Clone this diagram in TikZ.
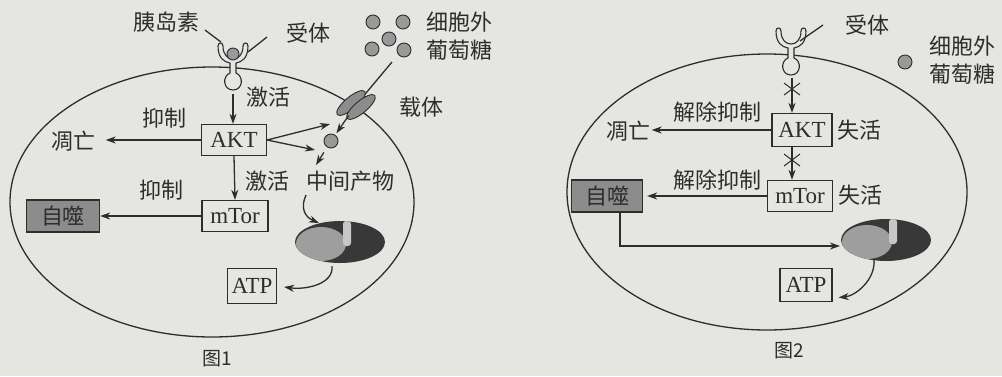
\documentclass[tikz,border=0pt]{standalone}
\usepackage{fontspec}
\setmainfont{Liberation Serif}
\newfontfamily\cjk{Noto Sans CJK SC}
\usepackage{tikz}
\usetikzlibrary{arrows.meta,calc}

\definecolor{paper}{RGB}{229,229,226}
\definecolor{ink}{RGB}{45,45,45}

\begin{document}
\begin{tikzpicture}[x=1pt,y=-1pt,line width=1.3pt,color=ink,
	box/.style={draw,font=\fontsize{23}{26}\selectfont,inner sep=1pt,minimum height=31},
	lab/.style={font=\cjk\fontsize{22}{26}\selectfont,inner sep=1pt},
	graybox/.style={box,font=\cjk\fontsize{22}{26}\selectfont,fill=black!45},
	arr/.style={-{Stealth[length=10pt,width=7pt,inset=3pt]}},
	ball/.style={circle,draw,fill=black!40,line width=0.9pt,minimum size=14,inner sep=0pt}]
	\fill[paper] (0,0) rectangle (1002,376);
	\useasboundingbox (0,0) rectangle (1002,376);

	% cell membranes
	\draw (212,202) ellipse [x radius=202, y radius=135];
	\draw (767,192) ellipse [x radius=200, y radius=138];

	% receptors
	\foreach \rx/\ry in {233/46, 791/31}{
		\filldraw[fill=paper,line width=1.1pt,shift={(\rx,\ry)}] (-3,17) -- (-3,27)
			.. controls (-11,30) and (-10,44) .. (0,44) .. controls (10,44) and (11,30) .. (3,27) -- (3,17)
			.. controls (9,16) and (15,12) .. (15,0) .. controls (15,-4) and (10,-4) .. (10,0)
			.. controls (10,9) and (5,13) .. (0,13) .. controls (-5,13) and (-10,9) .. (-10,0)
			.. controls (-10,-4) and (-15,-4) .. (-15,0) .. controls (-15,12) and (-9,16) .. (-3,17) -- cycle;
	}
	\node[ball,minimum size=12] (ins1) at (233,54) {};

	% mitochondria
	\foreach \mx/\my in {340/242, 886/240}{
		\begin{scope}[shift={(\mx,\my)}]
			\clip (0,0) ellipse [x radius=45, y radius=21];
			\fill[black!78] (-46,-22) rectangle (46,22);
			\fill[black!38] (-19,2) ellipse [x radius=25, y radius=17];
			\fill[black!22,rounded corners=3] (3,-21) rectangle (11,4);
		\end{scope}
	}
	\coordinate (mito1) at (340,242);
	\coordinate (mito2) at (886,240);

	% ---- left cell ----
	\node[lab] (ins) at (166,22) {胰岛素};
	\node[lab] (rec1) at (308,33) {受体};
	\draw (205,30) -- (221,42);
	\draw (267,37) -- (248,52);

	\node[ball] (g1) at (373,22) {};
	\node[ball] (g2) at (403,22) {};
	\node[ball] (g3) at (372,49) {};
	\node[ball] (g4) at (389,39) {};
	\node[ball] (g5) at (404,50) {};
	\node[lab] (out1) at (459,22) {细胞外};
	\node[lab] (glu1) at (459,50) {葡萄糖};

	\coordinate (gin) at (392,62);
	\coordinate (car) at (356,105);
	\draw (gin) -- (car);
	\filldraw[fill=black!45,line width=0.9pt,rotate around={40:(351,103)}] (351,103) ellipse [x radius=18, y radius=6];
	\filldraw[fill=black!45,line width=0.9pt,rotate around={40:(361,107)}] (361,107) ellipse [x radius=18, y radius=6];
	\node[lab] (carlab) at (421,107) {载体};
	\node[ball] (gin1) at (331,141) {};
	\draw[arr,shorten <=13pt,shorten >=2pt] (car) -- (gin1);

	\node[box,minimum width=65] (akt1) at (234,140) {AKT};
	\node[box,minimum width=66] (mtor1) at (235,216) {mTor};
	\node[box,minimum width=49,minimum height=35] (atp1) at (252,286) {ATP};
	\node[graybox,minimum width=73,minimum height=32] (auto1) at (63,216) {自噬};
	\node[lab] (dead1) at (73,141) {凋亡};

	\coordinate (rb1) at (233,94);
	\draw[arr] (rb1) -- (akt1.north -| rb1);
	\node[lab] (act1) at (268,97) {激活};
	\draw[arr,shorten >=9pt] (akt1.west) -- (akt1.west -| dead1.east);
	\node[lab] (inh1) at (164,118) {抑制};
	\draw[arr] (akt1.south) -- (mtor1.north);
	\node[lab] (act2) at (267,181) {激活};
	\node[lab] (mid1) at (350,181) {中间产物};
	\draw[arr] (mtor1.west) -- (auto1.east);
	\node[lab] (inh2) at (161,190) {抑制};

	\coordinate (up1) at (330,124);
	\coordinate (dn1) at (315,150);
	\draw[arr] (akt1.east) -- (up1);
	\draw[arr] (akt1.east) -- (dn1);
	\coordinate (midtop) at (316,165);
	\draw[arr,shorten <=6pt] (gin1) -- (midtop);

	\coordinate (m1in) at (306,195);
	\draw[arr] (m1in) .. controls (300,208) and (305,217) .. (319,223);
	\coordinate (m1out) at (332,266);
	\draw[arr,shorten >=7pt] (m1out) .. controls (334,284) and (306,290) .. (atp1.east);
	\node[lab,font=\cjk\fontsize{19}{22}\selectfont] (fig1) at (217,359) {图1};

	% ---- right cell ----
	\node[lab] (rec2) at (867,25) {受体};
	\draw (800,41) -- (823,25);
	\node[ball] (g6) at (905,62) {};
	\node[lab] (out2) at (962,46) {细胞外};
	\node[lab] (glu2) at (962,74) {葡萄糖};

	\node[box,minimum width=60,minimum height=33] (akt2) at (802,130) {AKT};
	\node[box,minimum width=65] (mtor2) at (800,196) {mTor};
	\node[box,minimum width=52,minimum height=33] (atp2) at (806,285) {ATP};
	\node[graybox,minimum width=71,minimum height=32] (auto2) at (607,196) {自噬};
	\node[lab] (dead2) at (628,131) {凋亡};
	\node[lab] (off1) at (859,130) {失活};
	\node[lab] (off2) at (860,195) {失活};
	\node[lab] (rel1) at (717,112) {解除抑制};
	\node[lab] (rel2) at (717,180) {解除抑制};

	\coordinate (rb2) at (792,78);
	\draw[arr] (rb2) -- (akt2.north -| rb2);
	\draw[arr] (akt2.south -| rb2) -- (mtor2.north -| rb2);
	\foreach \cy in {89,160}{
		\draw[line width=1pt] (784,\cy-6) -- (800,\cy+6);
		\draw[line width=1pt] (784,\cy+6) -- (800,\cy-6);
	}
	\draw[arr] (akt2.west) -- (akt2.west -| dead2.east);
	\draw[arr,shorten >=4pt] (mtor2.west) -- (mtor2.west -| auto2.east);

	\coordinate (m2in) at (840,246);
	\draw[arr] ([xshift=13pt]auto2.south) |- (m2in);
	\coordinate (m2out) at (874,259);
	\draw[arr,shorten >=6pt] (m2out) .. controls (876,280) and (855,296) .. (atp2.east |- 0,298);
	\node[lab,font=\cjk\fontsize{19}{22}\selectfont] (fig2) at (789,351) {图2};
\end{tikzpicture}
\end{document}
